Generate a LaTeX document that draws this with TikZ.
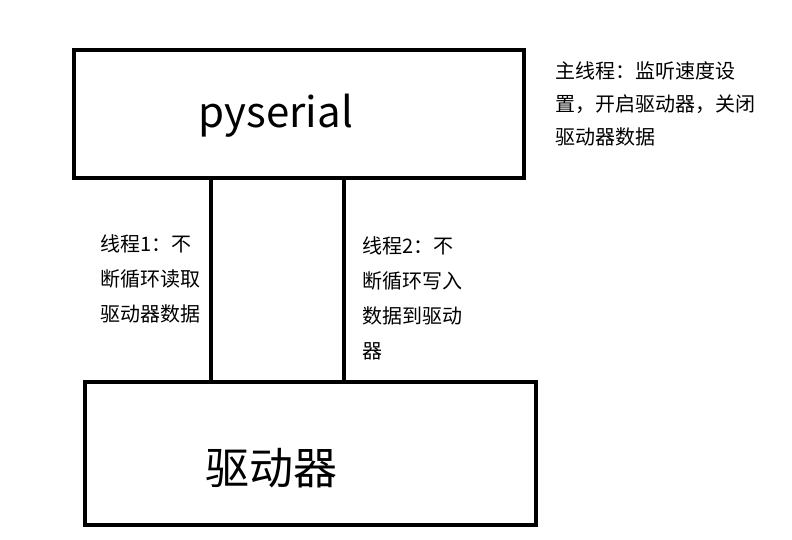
\documentclass[tikz,border=0pt]{standalone}
\usepackage{fontspec}
\setmainfont{Noto Sans CJK SC}
\begin{document}
\begin{tikzpicture}[x=1pt,y=-1pt,
  box/.style={draw, line width=4pt, inner sep=0pt},
  note/.style={inner sep=0pt, anchor=base west, align=left, font=\fontsize{20}{35}\selectfont},
  link/.style={line width=4pt}]
\useasboundingbox (0,0) rectangle (792,540);
\node[box, minimum width=450pt, minimum height=128pt] (ps) at (299,114) {};
\node[box, minimum width=451pt, minimum height=143pt] (dr) at (310.5,453.5) {};
\node[inner sep=0pt, anchor=base, font=\fontsize{42}{48}\selectfont] (pst) at (276,128) {pyserial};
\node[inner sep=0pt, font=\fontsize{44}{50}\selectfont] (drt) at (271,468) {驱动器};
\coordinate (l1) at (211,0);
\coordinate (l2) at (344,0);
\draw[link] (ps.south -| l1) -- (dr.north -| l1);
\draw[link] (ps.south -| l2) -- (dr.north -| l2);
\node[note, font=\fontsize{20}{33}\selectfont] (main) at (555,145) {主线程：监听速度设\\置，开启驱动器，关闭\\驱动器数据};
\node[note] (t1) at (100,321) {线程1：不\\断循环读取\\驱动器数据};
\node[note] (t2) at (362,358) {线程2：不\\断循环写入\\数据到驱动\\器};
\end{tikzpicture}
\end{document}
